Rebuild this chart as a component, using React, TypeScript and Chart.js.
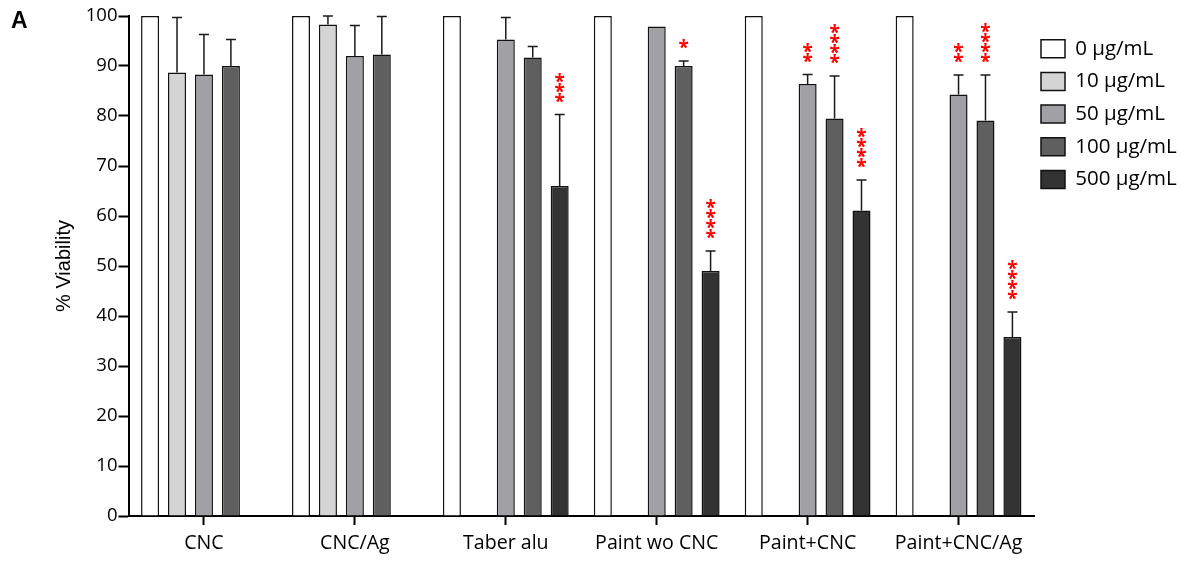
import React, { useEffect, useRef } from 'react';
import { Chart, registerables } from 'chart.js';

Chart.register(...registerables);

// ---- data ----
const categories = ['CNC', 'CNC/Ag', 'Taber alu', 'Paint wo CNC', 'Paint+CNC', 'Paint+CNC/Ag'];
const seriesLabels = ['0 µg/mL', '10 µg/mL', '50 µg/mL', '100 µg/mL', '500 µg/mL'];

const values0 = [100, 100, 100, 100, 100, 100];
const values10 = [88.7, 98.3, null, null, null, null];
const values50 = [88.3, 92.0, 95.3, 97.9, 86.4, 84.3];
const values100 = [90.0, 92.3, 91.7, 90.0, 79.5, 79.1];
const values500 = [null, null, 66.0, 49.0, 61.1, 35.8];

const errors0 = [0, 0, 0, 0, 0, 0];
const errors10 = [11.0, 1.7, 0, 0, 0, 0];
const errors50 = [8.0, 6.1, 4.4, 0, 1.9, 3.9];
const errors100 = [5.3, 7.6, 2.2, 1.0, 8.5, 9.1];
const errors500 = [0, 0, 14.3, 4.0, 6.1, 5.0];

const stars0 = ['', '', '', '', '', ''];
const stars10 = ['', '', '', '', '', ''];
const stars50 = ['', '', '', '', '**', '**'];
const stars100 = ['', '', '', '*', '****', '****'];
const stars500 = ['', '', '***', '****', '****', '****'];

const yMin = 0;
const yMax = 100;
const yStep = 10;

const seriesValues = [values0, values10, values50, values100, values500];
const seriesErrors = [errors0, errors10, errors50, errors100, errors500];
const seriesStars = [stars0, stars10, stars50, stars100, stars500];
const seriesColors = ['#ffffff', '#d4d4d4', '#a1a0a4', '#5f5f5f', '#333333'];

// ---- plugins ----
const errorBarsPlugin = {
  id: 'errorBars',
  afterDatasetsDraw(chart: any) {
    const ctx = chart.ctx;
    const yScale = chart.scales.y;
    chart.data.datasets.forEach((ds: any, i: number) => {
      const meta = chart.getDatasetMeta(i);
      const errs = seriesErrors[i];
      const stars = seriesStars[i];
      meta.data.forEach((el: any, j: number) => {
        const v = ds.data[j];
        if (v === null || v === undefined) return;
        const e = errs[j] || 0;
        const x = el.x;
        const yTop = yScale.getPixelForValue(v + e);
        if (e > 0) {
          ctx.save();
          ctx.strokeStyle = '#1a1a1a';
          ctx.lineWidth = 1.5;
          ctx.beginPath();
          ctx.moveTo(x, el.y);
          ctx.lineTo(x, yTop);
          ctx.moveTo(x - 5, yTop);
          ctx.lineTo(x + 5, yTop);
          ctx.stroke();
          ctx.restore();
        }
        const s = stars[j];
        if (s) {
          ctx.save();
          ctx.fillStyle = '#ff0000';
          ctx.font = 'bold 19px "Open Sans"';
          ctx.textAlign = 'center';
          ctx.textBaseline = 'alphabetic';
          const m = ctx.measureText('*');
          const mid = (m.actualBoundingBoxAscent - m.actualBoundingBoxDescent) / 2;
          for (let k = 0; k < s.length; k++) {
            const cy = yTop - 17 - k * 10;
            ctx.fillText(s[k], x, cy + mid);
          }
          ctx.restore();
        }
      });
    });
  },
};

const legendOffsetPlugin = {
  id: 'legendOffset',
  afterLayout(chart: any, _args: any, opts: any) {
    const lg = chart.legend;
    if (!lg) return;
    lg.left += opts.x;
    lg.right += opts.x;
    lg.top += opts.y;
    lg.bottom += opts.y;
  },
};

const panelLabelPlugin = {
  id: 'panelLabel',
  afterDraw(chart: any, _args: any, opts: any) {
    const ctx = chart.ctx;
    ctx.save();
    ctx.font = opts.font;
    ctx.fillStyle = '#000';
    ctx.textBaseline = 'alphabetic';
    ctx.textAlign = 'left';
    ctx.fillText(opts.text, opts.x, opts.y);
    ctx.restore();
  },
};

export default function App() {
  const canvasRef = useRef<HTMLCanvasElement | null>(null);

  useEffect(() => {
    if (!canvasRef.current) return;
    const datasets = seriesLabels.map((label, i) => ({
      label,
      data: seriesValues[i],
      backgroundColor: seriesColors[i],
      borderColor: '#111111',
      borderWidth: 1.5,
    }));

    const chart = new Chart(canvasRef.current, {
      type: 'bar',
      data: { labels: categories, datasets },
      plugins: [errorBarsPlugin, legendOffsetPlugin, panelLabelPlugin],
      options: {
        responsive: false,
        animation: false,
        devicePixelRatio: 1,
        layout: { padding: { top: 16, right: 0, bottom: 0, left: 0 } },
        datasets: { bar: { categoryPercentage: 0.8925, barPercentage: 0.669 } },
        plugins: {
          legend: {
            position: 'right',
            align: 'start',
            maxWidth: 152,
            labels: {
              boxWidth: 24,
              boxHeight: 18,
              padding: 12.2,
              color: '#000',
              font: { family: 'Open Sans', size: 20.5 },
            },
          },
          tooltip: { enabled: false },
          legendOffset: { x: -5.2, y: 10.25 },
          panelLabel: { text: 'A', x: 11, y: 28, font: 'bold 23px "Liberation Sans"' },
        } as any,
        scales: {
          x: {
            type: 'category',
            offset: true,
            grid: {
              offset: false,
              drawOnChartArea: false,
              drawTicks: true,
              tickLength: 9,
              tickWidth: 2,
              tickColor: '#000',
            },
            border: { display: true, color: '#000', width: 2 },
            ticks: {
              color: '#000',
              font: { family: 'Open Sans', size: 19.6 },
              padding: 7,
              maxRotation: 0,
              autoSkip: false,
            },
            afterFit: (s: any) => {
              s.height = 45;
            },
          },
          y: {
            min: yMin,
            max: yMax,
            ticks: {
              stepSize: yStep,
              color: '#000',
              font: { family: 'Open Sans', size: 18.5 },
              padding: 1,
            },
            grid: {
              drawOnChartArea: false,
              tickLength: 10,
              tickWidth: 2,
              tickColor: '#000',
            },
            border: { display: true, color: '#000', width: 2 },
            title: {
              display: true,
              text: '% Viability',
              color: '#000',
              font: { family: 'Liberation Sans', size: 20 },
              padding: { top: 52, bottom: 0 },
            },
            afterFit: (s: any) => {
              s.width = 128.5;
            },
          },
        },
      } as any,
    });
    return () => chart.destroy();
  }, []);

  return (
    <div style={{ position: 'fixed', left: 0, top: 0, width: 1186, height: 561, background: '#fff' }}>
      <canvas ref={canvasRef} width={1186} height={561} style={{ display: 'block' }} />
    </div>
  );
}
